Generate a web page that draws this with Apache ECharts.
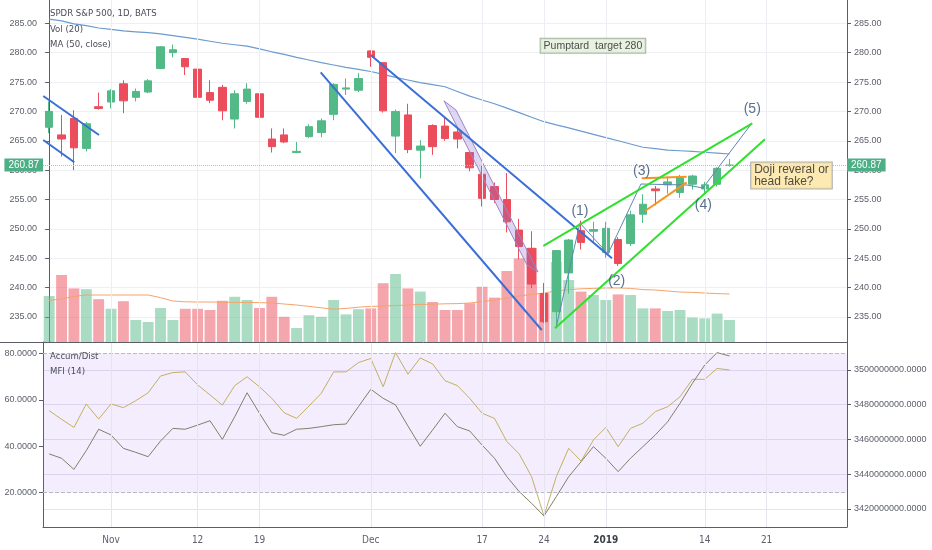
<!DOCTYPE html>
<html><head><meta charset="utf-8">
<script src="https://cdn.jsdelivr.net/npm/echarts@6/dist/echarts.min.js"></script>
<style>html,body{margin:0;padding:0;background:#fff}#c{width:932px;height:550px}</style>
</head><body><div id="c"></div>
<script>
// ---------- data ----------
const dates = ['2018-10-25','2018-10-26','2018-10-29','2018-10-30','2018-10-31','2018-11-01','2018-11-02','2018-11-05','2018-11-06','2018-11-07','2018-11-08','2018-11-09','2018-11-12','2018-11-13','2018-11-14','2018-11-15','2018-11-16','2018-11-19','2018-11-20','2018-11-21','2018-11-23','2018-11-26','2018-11-27','2018-11-28','2018-11-29','2018-11-30','2018-12-03','2018-12-04','2018-12-06','2018-12-07','2018-12-10','2018-12-11','2018-12-12','2018-12-13','2018-12-14','2018-12-17','2018-12-18','2018-12-19','2018-12-20','2018-12-21','2018-12-24','2018-12-26','2018-12-27','2018-12-28','2018-12-31','2019-01-02','2019-01-03','2019-01-04','2019-01-07','2019-01-08','2019-01-09','2019-01-10','2019-01-11','2019-01-14','2019-01-15','2019-01-16'];
const futureDates = ['2019-01-17','2019-01-18','2019-01-21','2019-01-22','2019-01-23','2019-01-24','2019-01-25','2019-01-28','2019-01-29'];

const opens  = [267.3,266.0,268.8,263.7,270.8,271.6,274.7,272.4,273.3,277.3,280.0,279.0,277.2,273.2,274.1,268.7,271.7,273.0,265.3,266.0,263.0,265.7,266.4,269.5,273.8,273.6,280.3,278.3,265.8,269.4,263.4,267.6,267.5,266.5,263.0,259.3,257.2,255.0,249.8,246.7,239.0,235.9,242.5,249.7,249.6,246.0,248.2,247.5,252.5,256.8,257.5,256.2,257.6,256.8,257.6,260.8];
const closes = [270.0,265.3,263.8,267.9,270.5,273.5,271.8,273.4,275.2,281.0,280.5,277.6,272.4,271.9,270.1,273.0,273.8,269.0,264.0,264.8,263.2,267.4,268.4,274.6,274.0,275.6,279.2,270.1,270.0,263.5,264.1,264.0,265.4,265.3,260.4,255.2,255.0,251.2,247.0,240.6,234.2,246.3,248.1,247.7,249.9,250.1,244.1,252.4,254.2,256.5,258.0,258.8,259.0,257.5,260.3,260.87];
const lows   = [266.3,262.3,260.0,263.2,270.3,270.5,269.7,271.7,273.1,277.2,279.2,276.2,272.2,271.4,268.5,267.1,271.3,268.0,263.0,264.6,262.9,265.5,265.6,268.5,272.8,273.3,277.6,269.8,262.9,262.9,258.6,262.6,265.0,263.7,259.8,253.8,254.4,249.4,244.8,239.9,234.0,233.8,239.0,246.5,247.5,245.1,243.7,247.1,251.0,254.0,256.0,255.3,256.7,255.9,257.2,260.6];
const highs  = [271.7,269.4,270.2,268.2,273.2,273.8,275.3,273.9,275.5,281.1,281.4,279.1,277.4,275.3,274.5,273.6,274.8,273.5,267.1,267.1,264.8,267.8,268.8,274.8,275.6,276.5,280.4,278.4,270.3,271.3,265.1,267.8,269.2,267.0,263.3,260.7,257.9,259.5,251.7,249.6,240.8,246.3,248.3,251.4,251.2,251.2,248.6,253.1,255.9,257.3,258.9,259.2,259.2,258.0,260.5,261.9];
const volumes = [11.5,16.75,13.4,13.2,10.7,8.3,10.2,5.5,5.0,8.5,5.5,8.3,8.3,8.0,10.3,11.3,10.5,8.5,11.3,6.3,3.5,6.7,6.3,10.5,6.9,8.2,8.4,14.7,17.0,13.4,12.6,10.0,8.0,8.0,9.7,13.8,11.1,17.75,20.9,23.5,12.2,20.0,15.5,12.6,11.75,10.5,11.9,11.75,8.4,8.4,7.75,8.0,6.1,5.9,7.1,5.5];
const volumeMA = [10.4,10.75,11.4,11.75,11.75,11.75,11.75,11.75,11.75,11.1,10.25,10.05,10.0,10.0,9.95,9.9,9.9,9.85,9.75,9.5,9.25,8.9,8.55,8.2,8.4,8.7,8.9,9.0,9.1,9.25,9.4,9.45,9.55,9.6,9.75,10.1,10.5,11.0,11.5,11.9,12.25,12.75,13.1,13.3,13.4,13.5,13.5,13.4,13.1,13.0,12.75,12.5,12.4,12.25,12.1,12.0];
const ma50 = [285.7,285.4,284.9,284.6,284.2,283.95,283.7,283.55,283.4,283.2,282.9,282.6,282.3,281.95,281.6,281.35,281.1,280.65,280.15,279.7,279.2,278.75,278.3,277.9,277.5,277.15,276.8,276.3,275.8,275.35,274.9,274.55,274.2,273.4,272.6,271.95,271.3,270.55,269.8,269.0,268.25,267.7,267.2,266.65,266.1,265.55,265.0,264.45,263.9,263.65,263.4,263.3,263.2,263.05,262.9,262.75];
const mfi = [55.3,51.6,48.1,58.2,51.7,58.2,56.6,59.6,63.0,70.2,71.7,72.0,66.4,62.1,57.7,66.1,69.9,65.6,60.6,54.4,52.0,57.3,62.8,72.0,72.0,76.0,77.8,65.6,80.3,71.0,78.0,75.4,68.2,66.1,60.6,54.2,52.0,42.0,36.7,26.9,10.0,26.9,39.1,33.6,42.7,48.1,39.8,47.7,49.9,54.9,57.0,61.3,68.8,68.8,73.5,72.8];
const accDistM = [3451.7,3449.2,3442.8,3453.6,3465.9,3462.6,3454.9,3452.6,3450.1,3459.1,3466.4,3465.9,3468.3,3470.8,3460.1,3473.1,3486.9,3475.1,3463.9,3462.4,3465.9,3466.4,3467.4,3468.5,3468.9,3478.9,3488.9,3483.7,3479.9,3467.8,3456.1,3465.5,3475.1,3467.4,3464.9,3456.8,3449.2,3438.6,3430.0,3423.3,3416.0,3427.1,3438.6,3447.2,3455.9,3449.2,3441.5,3449.2,3455.9,3462.6,3470.2,3480.8,3492.3,3502.9,3510.0,3508.1];
const tickDates  = ['2018-11-01','2018-11-12','2018-11-19','2018-12-03','2018-12-17','2018-12-24','2019-01-02','2019-01-14','2019-01-21'];
const tickLabels = ['Nov','12','19','Dec','17','24','2019','14','21'];
const lastPrice = 260.87;

// drawings, in [bar index, price]
const channelSmallUpper = [[-0.48,272.62],[4.03,265.98]];
const channelSmallLower = [[-0.48,265.13],[2.03,261.34]];
const channelBigLower   = [[21.95,276.66],[39.82,232.79]];
const channelBigUpper   = [[25.99,279.6],[45.5,245.0]];
const wedgeUpper = [[39.95,247.09],[56.84,267.98]];
const wedgeLower = [[40.89,233.08],[57.87,265.25]];
const wavePath = [[40.97,233.13],[42.91,251.0],[45.18,245.73],[47.84,257.64],[51.56,257.47],[52.85,256.96],[56.81,268.0]];
const flagUpper = [[47.9,258.61],[51.54,258.88]];
const flagLower = [[48.17,253.05],[51.54,257.93]];
const fallChannel = [[31.92,271.8],[32.89,270.24],[39.52,242.66],[38.63,243.85]];
const waveLabels = [['(1)',42.91,253.1],['(2)',45.88,241.18],['(3)',47.9,259.86],['(4)',52.88,254.07],['(5)',56.84,270.41]];
const noteTarget = ['Pumptard  target 280',43.96,281.17];
const noteDoji = ['Doji reveral or\nhead fake?',56.71,259.09];

// ---------- chart ----------
const allDates = dates.concat(futureDates);
const UP = '#53b987', DOWN = '#eb4d5c';
const AX = '#5b5e68', LBL = '#5d606b';
const NARROW = '"DejaVu Sans Condensed","Liberation Sans",sans-serif';
const SANS = '"Liberation Sans",Arial,sans-serif';

const candleData = dates.map((d,i)=>[opens[i],closes[i],lows[i],highs[i]]);
const volData = volumes.map((v,i)=>({value:v,itemStyle:{color: closes[i]>=opens[i] ? 'rgba(83,185,135,0.5)' : 'rgba(235,77,92,0.5)'}}));
const vLines = tickDates.map(d=>({xAxis:d}));
const labelMap = {}; tickDates.forEach((d,i)=>labelMap[d]=tickLabels[i]);

function drawLine(pts,color,width){
  return {type:'line',xAxisIndex:1,yAxisIndex:1,data:pts,symbol:'none',silent:true,z:5,
    lineStyle:{color:color,width:width},animation:false};
}
const gridBase = {left:43,right:85,outerBoundsMode:'none',containLabel:false};
const priceMin = 230.744, priceMax = 288.967;
const numLabel = {color:LBL,fontSize:9,fontFamily:SANS,margin:6,showMinLabel:false,showMaxLabel:false};
const priceAxis = (pos,split)=>({
  type:'value',gridIndex:0,position:pos,min:priceMin,max:priceMax,splitNumber:10,minInterval:5,maxInterval:5,
  axisLine:{show:true,lineStyle:{color:AX}},
  axisTick:{show:true,length:4,lineStyle:{color:AX}},
  axisLabel:Object.assign({formatter:v=>v.toFixed(2)},numLabel,{margin: pos==='left'?6:7}),
  splitLine:{show:split,showMinLine:false,showMaxLine:false,lineStyle:{color:'#eef0f4'}}
});

const option = {
  animation:false,
  backgroundColor:'#ffffff',
  grid:[
    Object.assign({top:0,height:342},gridBase),
    Object.assign({top:0,height:342},gridBase),
    Object.assign({top:342,height:185},gridBase)
  ],
  xAxis:[
    {type:'category',gridIndex:0,data:allDates,boundaryGap:true,show:false},
    {type:'value',gridIndex:0,position:'top',min:-0.5,max:64.5,show:false},
    {type:'category',gridIndex:1,data:allDates,boundaryGap:true,show:false},
    {type:'category',gridIndex:2,data:allDates,boundaryGap:true,
      axisLine:{show:true,lineStyle:{color:AX}},axisTick:{show:false},splitLine:{show:false},
      axisLabel:{interval:(idx,val)=>labelMap[val]!==undefined,
        formatter:v=> v.slice(5)==='01-02' ? '{b|'+labelMap[v]+'}' : labelMap[v],
        color:LBL,fontSize:10,fontFamily:NARROW,margin:8,
        rich:{b:{fontWeight:'bold',color:'#3d4049',fontSize:10,fontFamily:NARROW}}}}
  ],
  yAxis:[
    priceAxis('left',true),
    priceAxis('right',false),
    {type:'value',gridIndex:1,min:0,max:85.5,show:false},
    {type:'value',gridIndex:2,position:'left',min:5.237,max:84.864,splitNumber:4,minInterval:20,maxInterval:20,
      axisLine:{show:true,lineStyle:{color:AX}},axisTick:{show:true,length:4,lineStyle:{color:AX}},
      axisLabel:Object.assign({formatter:v=>v.toFixed(4)},numLabel),
      splitLine:{show:false}},
    {type:'value',gridIndex:2,position:'right',min:3409.64e6,max:3516.115e6,splitNumber:5,minInterval:20e6,maxInterval:20e6,
      axisLine:{show:true,lineStyle:{color:AX}},axisTick:{show:true,length:4,lineStyle:{color:AX}},
      axisLabel:Object.assign({formatter:v=>v.toFixed(4)},numLabel,{margin:7}),
      splitLine:{show:true,showMinLine:false,showMaxLine:false,lineStyle:{color:'#e6e2ee'}}}
  ],
  series:[
    {type:'line',name:'vgrid0',xAxisIndex:0,yAxisIndex:0,data:[],z:0,silent:true,
      markLine:{silent:true,symbol:'none',animation:false,label:{show:false},lineStyle:{color:'#eceef3',type:'solid',width:1},data:vLines}},
    {type:'bar',name:'Vol',xAxisIndex:2,yAxisIndex:2,data:volData,barCategoryGap:'12%',z:1,silent:true},
    {type:'line',name:'VolMA',xAxisIndex:2,yAxisIndex:2,data:volumeMA,symbol:'none',z:1,silent:true,
      lineStyle:{color:'#f6a36a',width:1}},
    {type:'candlestick',name:'SPY',xAxisIndex:0,yAxisIndex:0,data:candleData,barWidth:8,z:3,silent:true,
      itemStyle:{color:UP,color0:DOWN,borderColor:UP,borderColor0:DOWN,borderWidth:1},
      markLine:{silent:true,symbol:'none',animation:false,
        lineStyle:{color:'#8fd4b8',type:'dotted',width:1},
        label:{show:true,formatter:()=>lastPrice.toFixed(2),backgroundColor:'#4caf85',color:'#ffffff',
          fontSize:10,fontFamily:SANS,padding:[2,4,1,4],distance:0},
        data:[{yAxis:lastPrice,label:{position:'start'}},{yAxis:lastPrice,label:{position:'end'}}]}},
    {type:'line',name:'MA50',xAxisIndex:0,yAxisIndex:0,data:ma50,symbol:'none',z:3,silent:true,
      lineStyle:{color:'#6c9bcf',width:1.2}},
    {type:'custom',name:'fallChannel',xAxisIndex:1,yAxisIndex:1,data:[0],z:4,silent:true,
      renderItem:(params,api)=>({type:'polygon',shape:{points:fallChannel.map(p=>api.coord(p))},
        style:{fill:'rgba(140,110,205,0.28)',stroke:'#9b86c8',lineWidth:1}})},
    drawLine(channelSmallUpper,'#3b6fd6',2),
    drawLine(channelSmallLower,'#3b6fd6',2),
    drawLine(channelBigLower,'#3b6fd6',2),
    drawLine(channelBigUpper,'#3b6fd6',2),
    drawLine(wavePath,'#5f86b5',1),
    drawLine(flagUpper,'#f7931e',2),
    drawLine(flagLower,'#f7931e',2),
    drawLine(wedgeUpper,'#2fe02f',2),
    drawLine(wedgeLower,'#2fe02f',2),
    {type:'scatter',name:'notes',xAxisIndex:1,yAxisIndex:1,symbolSize:1,z:7,silent:true,
      itemStyle:{color:'rgba(0,0,0,0)'},
      label:{show:true,position:'inside',formatter:'{b}',color:'#2f4c73',fontSize:14,fontFamily:SANS},
      data: waveLabels.map(w=>({name:w[0],value:[w[1],w[2]]})).concat([
        {name:noteTarget[0],value:[noteTarget[1],noteTarget[2]],
          label:{color:'#222',fontSize:10.5,fontFamily:SANS,backgroundColor:'#e4efdb',borderColor:'#8fa68b',borderWidth:1,padding:[2,3,1,3]}},
        {name:noteDoji[0],value:[noteDoji[1],noteDoji[2]],
          label:{position:'right',distance:0,align:'left',color:'#222',fontSize:12,lineHeight:12,fontFamily:SANS,
            backgroundColor:'#fde5a0',borderColor:'#a0a0a0',borderWidth:1,padding:[1,3,1,3]}}
      ])},
    {type:'line',name:'band',xAxisIndex:3,yAxisIndex:3,data:[],z:0,silent:true,
      markArea:{silent:true,animation:false,itemStyle:{color:'rgba(155,90,245,0.11)'},data:[[{yAxis:20},{yAxis:80}]]},
      markLine:{silent:true,symbol:'none',animation:false,label:{show:false},
        data:[{yAxis:80,lineStyle:{color:'#b9b9c2',type:'dashed',width:1}},{yAxis:20,lineStyle:{color:'#b9b9c2',type:'dashed',width:1}}]
          .concat(vLines.map(v=>Object.assign({lineStyle:{color:'#e8e4ef',type:'solid',width:1}},v)))}},
    {type:'line',name:'MFI',xAxisIndex:3,yAxisIndex:3,data:mfi,symbol:'none',z:3,silent:true,
      lineStyle:{color:'#c2b062',width:1}},
    {type:'line',name:'Accum/Dist',xAxisIndex:3,yAxisIndex:4,data:accDistM.map(v=>v*1e6),symbol:'none',z:3,silent:true,
      lineStyle:{color:'#847e6a',width:1}}
  ],
  graphic:[
    {type:'line',shape:{x1:0,y1:342.5,x2:847,y2:342.5},style:{stroke:AX,lineWidth:1},z:50},
    {type:'text',left:50,top:9,style:{text:'SPDR S&P 500, 1D, BATS',fill:'#4a4d57',font:'9.5px '+NARROW},z:50},
    {type:'text',left:50,top:25,style:{text:'Vol (20)',fill:'#4a4d57',font:'9.5px '+NARROW},z:50},
    {type:'text',left:50,top:40,style:{text:'MA (50, close)',fill:'#4a4d57',font:'9.5px '+NARROW},z:50},
    {type:'text',left:50,top:352,style:{text:'Accum/Dist',fill:'#4a4d57',font:'9.5px '+NARROW},z:50},
    {type:'text',left:50,top:367,style:{text:'MFI (14)',fill:'#4a4d57',font:'9.5px '+NARROW},z:50}
  ]
};
const chart = echarts.init(document.getElementById('c'),null,{renderer:'canvas'});
chart.setOption(option);
</script>
</body></html>
